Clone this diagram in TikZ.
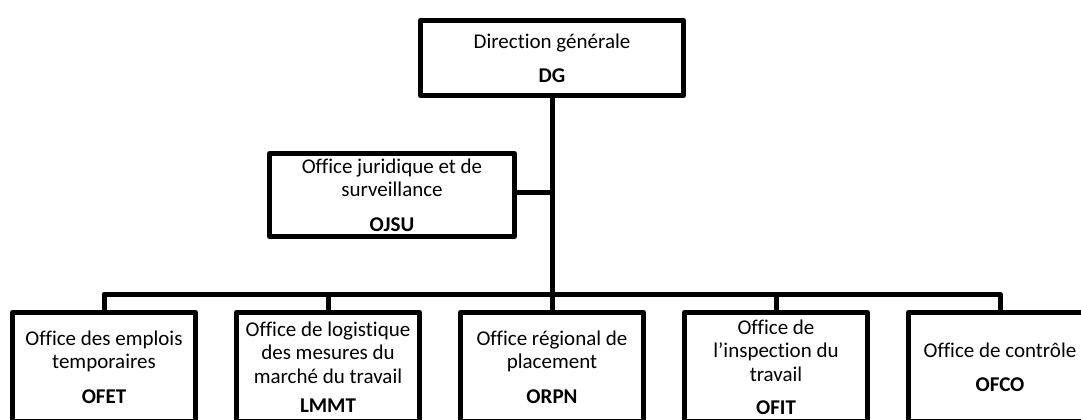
\documentclass[tikz,border=0pt]{standalone}
\usepackage{fontspec}
\setmainfont{Carlito}[Ligatures={NoCommon}]
\begin{document}
\begin{tikzpicture}[x=0.75pt,y=-0.75pt,
  box/.style={draw=black,line width=3.75pt,line join=round,fill=white,inner sep=0pt,
    align=center,font=\fontsize{15.75}{17.6}\selectfont},
  low/.style={box,minimum width={183*0.75pt},minimum height={109*0.75pt}},
  conn/.style={draw=black,line width=3.75pt,line join=round,line cap=rect}]
\useasboundingbox (0,0) rectangle (1081,420);
\node[box,minimum width={263*0.75pt},minimum height={75*0.75pt}] (dg) at (552,58)
  {Direction générale\\[8pt]\textbf{DG}};
\node[box,minimum width={245*0.75pt},minimum height={83*0.75pt}] (ojsu) at (392,195)
  {Office juridique et de\\surveillance\\[8pt]\textbf{OJSU}};
\node[low] (ofet) at (104,367) {Office des emplois\\temporaires\\[8pt]\textbf{OFET}};
\node[low] (lmmt) at (328,367) {Office de logistique\\des mesures du\\marché du travail\\[4pt]\textbf{LMMT}};
\node[low] (orpn) at (552,367) {Office régional de\\placement\\[8pt]\textbf{ORPN}};
\node[low] (ofit) at (776,367) {Office de\\l’inspection du\\travail\\[7pt]\textbf{OFIT}};
\node[low] (ofco) at (1000,367) {Office de contrôle\\[8pt]\textbf{OFCO}};
\coordinate (bus) at (552,294);
\coordinate (mid) at (552,193);
\draw[conn] (dg.south) -- (bus);
\draw[conn] (ojsu.east |- mid) -- (mid);
\draw[conn,line cap=butt] (ofet.north) -- (ofet.north |- bus) -- (ofco.north |- bus) -- (ofco.north);
\draw[conn,line cap=butt] (lmmt.north) -- (lmmt.north |- bus);
\draw[conn,line cap=butt] (orpn.north) -- (bus);
\draw[conn,line cap=butt] (ofit.north) -- (ofit.north |- bus);
\end{tikzpicture}
\end{document}
